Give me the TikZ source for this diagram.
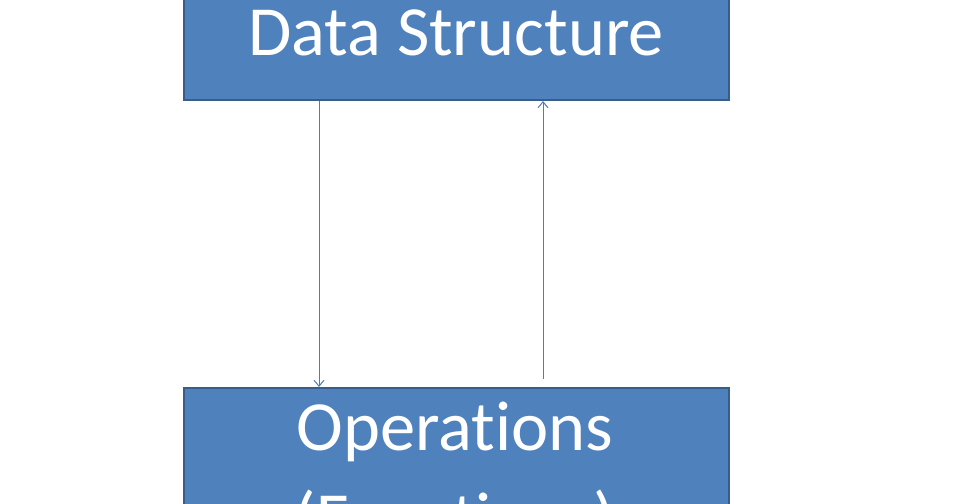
\documentclass[tikz,border=0pt]{standalone}
\usepackage{fontspec}
\setmainfont{Carlito}[Ligatures={NoCommon}]
\usetikzlibrary{arrows.meta}
\definecolor{boxfill}{HTML}{4F81BD}
\definecolor{boxline}{HTML}{385D8A}
\definecolor{arrline}{HTML}{4A7EBB}
\begin{document}
\begin{tikzpicture}[x=1bp,y=-1bp,
  box/.style={draw=boxline,fill=boxfill,line width=2bp,minimum width=545bp,inner sep=0pt},
  lbl/.style={text=white,font=\fontsize{70.5bp}{91bp}\selectfont,anchor=base,inner sep=0pt},
  arr/.style={draw=arrline,line width=1bp,-{Straight Barb[length=6bp,width=10bp]}}]
\useasboundingbox (0,0) rectangle (960,504);
\begin{scope}
\clip (0,0) rectangle (960,504);
\node[box,minimum height=180bp] (ds) at (456.5,10) {};
\node[box,minimum height=200bp] (ops) at (456.5,488) {};
\node[lbl] (dst) at (456,56) {Data Structure};
\node[lbl,align=center] (opt) at (455,541) {Operations\\(Functions)};
\draw[arr] ([xshift=136bp]ds.south west) -- ([xshift=136bp]ops.north west);
\draw[arr] ([xshift=360bp,yshift=8bp]ops.north west) -- ([xshift=360bp]ds.south west);
\end{scope}
\end{tikzpicture}
\end{document}
